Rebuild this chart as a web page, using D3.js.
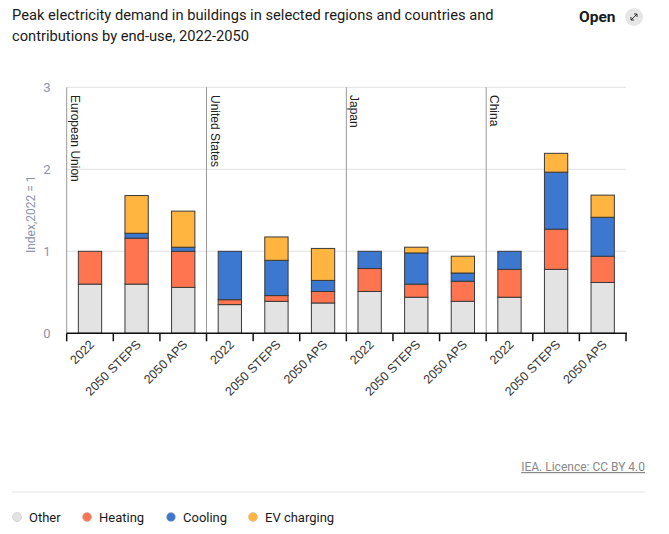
<!DOCTYPE html>
<html><head><meta charset="utf-8">
<script src="https://cdn.jsdelivr.net/npm/d3@7"></script>
<style>
body{margin:0;background:#fff;font-family:Roboto,"Liberation Sans",sans-serif;}
svg{display:block}
</style></head><body>
<svg id="c" width="669" height="534"></svg>
<script>
const regions = ["European Union","United States","Japan","China"];
const scenarios = ["2022","2050 STEPS","2050 APS"];
const seriesNames = ["Other","Heating","Cooling","EV charging"];
const seriesColors = ["#e3e3e3","#ff7550","#3c78d0","#ffb53f"];
// values per bar in order EU(2022,STEPS,APS), US(...), Japan(...), China(...)
const other   = [0.60,0.60,0.56, 0.35,0.39,0.37, 0.51,0.44,0.39, 0.44,0.78,0.62];
const heating = [0.40,0.56,0.44, 0.06,0.07,0.14, 0.28,0.16,0.245,0.34,0.49,0.32];
const cooling = [0.00,0.06,0.05, 0.59,0.43,0.135,0.21,0.38,0.10, 0.22,0.695,0.475];
const ev      = [0.00,0.46,0.44, 0.00,0.285,0.39,0.00,0.07,0.205,0.00,0.23,0.27];
const yTicks = [0,1,2,3];

const rows = [];
regions.forEach((r,ri)=>scenarios.forEach((s,si)=>{
  const i = ri*3+si;
  rows.push({key:r+"|"+s, region:r, scenario:s, Other:other[i], Heating:heating[i], Cooling:cooling[i], "EV charging":ev[i]});
}));

const svg = d3.select("#c");
const L=66.7, R=626, T=87.3, B=333.3;
const x = d3.scaleBand().domain(rows.map(d=>d.key)).range([L,R]).paddingInner(0.5).paddingOuter(0.25);
const xb = d3.scaleBand().domain(rows.map(d=>d.key)).range([L,R]);
const y = d3.scaleLinear().domain([0,3]).range([B,T]);
const color = d3.scaleOrdinal().domain(seriesNames).range(seriesColors);

// title
const title = svg.append("g").attr("font-family","Roboto,sans-serif").attr("font-size",14.7).attr("fill","#1a1a1a");
title.append("text").attr("x",12).attr("y",20).text("Peak electricity demand in buildings in selected regions and countries and");
title.append("text").attr("x",12).attr("y",41).text("contributions by end-use, 2022-2050");
svg.append("text").attr("x",579).attr("y",22).attr("font-family","Roboto,sans-serif").attr("font-weight","bold").attr("font-size",15.5).attr("fill","#1a1a1a").text("Open");
svg.append("circle").attr("cx",634).attr("cy",17).attr("r",9).attr("fill","#e6e6e6");
svg.append("path").attr("d","M631,20 L637,14 M634,14 L637,14 L637,17 M631,17 L631,20 L634,20").attr("stroke","#333").attr("stroke-width",1).attr("fill","none");

// gridlines
svg.append("g").selectAll("line").data(yTicks.filter(t=>t>0)).join("line")
  .attr("x1",L).attr("x2",R).attr("y1",d=>y(d)).attr("y2",d=>y(d))
  .attr("stroke","#e2e2e2").attr("stroke-width",1);

// y axis labels
svg.append("g").selectAll("text").data(yTicks).join("text")
  .attr("x",47).attr("y",d=>y(d)+5).attr("text-anchor","middle")
  .attr("font-family","Roboto,sans-serif").attr("font-size",13).attr("fill","#8a94ac").text(d=>d);
svg.append("text").attr("transform",`translate(35,${(T+B)/2+4}) rotate(-90)`).attr("text-anchor","middle")
  .attr("font-family","Roboto,sans-serif").attr("font-size",12).attr("fill","#8a94ac").text("Index,2022 = 1");

// separators
const sepX = regions.map(r=>xb(r+"|"+scenarios[0]));
svg.append("g").selectAll("line").data(sepX).join("line")
  .attr("x1",d=>d).attr("x2",d=>d).attr("y1",T).attr("y2",B)
  .attr("stroke","#999").attr("stroke-width",1);

// region labels
svg.append("g").selectAll("text").data(regions).join("text")
  .attr("transform",r=>`translate(${xb(r+"|"+scenarios[0])+4},95) rotate(90)`)
  .attr("font-family","Liberation Sans,Arial,sans-serif").attr("font-size",12).attr("fill","#222").text(d=>d);

// stacked bars
const stack = d3.stack().keys(seriesNames)(rows);
svg.append("g").selectAll("g").data(stack).join("g").attr("fill",d=>color(d.key))
  .selectAll("rect").data(d=>d.filter(p=>p[1]-p[0]>0.0001)).join("rect")
  .attr("x",d=>x(d.data.key)).attr("width",x.bandwidth())
  .attr("y",d=>y(d[1])).attr("height",d=>y(d[0])-y(d[1]))
  .attr("stroke","#3a3a3a").attr("stroke-width",1);

// x axis
svg.append("line").attr("x1",L).attr("x2",R+1).attr("y1",B).attr("y2",B).attr("stroke","#111").attr("stroke-width",1.5);
const edges = rows.map(d=>xb(d.key)).concat([R]);
svg.append("g").selectAll("line").data(edges).join("line")
  .attr("x1",d=>d).attr("x2",d=>d).attr("y1",B).attr("y2",B+8).attr("stroke","#111").attr("stroke-width",1.5);
svg.append("g").selectAll("text").data(rows).join("text")
  .attr("transform",d=>`translate(${xb(d.key)+xb.bandwidth()/2+5},${B+12}) rotate(-45)`)
  .attr("text-anchor","end").attr("font-family","Liberation Sans,Arial,sans-serif").attr("font-size",12.5).attr("fill","#333")
  .text(d=>d.scenario);

// source
svg.append("text").attr("x",645).attr("y",471).attr("text-anchor","end")
  .attr("font-family","Roboto,sans-serif").attr("font-size",12).attr("fill","#888").attr("text-decoration","underline")
  .text("IEA. Licence: CC BY 4.0");
svg.append("line").attr("x1",12).attr("x2",645).attr("y1",492).attr("y2",492).attr("stroke","#e2e2e2");

// legend
const legX = [17, 87, 171, 253];
const lg = svg.append("g").selectAll("g").data(seriesNames).join("g").attr("transform",(d,i)=>`translate(${legX[i]},517)`);
lg.append("circle").attr("r",4.5).attr("fill",d=>color(d)).attr("stroke","#bbb").attr("stroke-width",0.5);
lg.append("text").attr("x",12).attr("y",4.5).attr("font-family","Roboto,sans-serif").attr("font-size",13).attr("fill","#1a1a1a").text(d=>d);
</script></body></html>
